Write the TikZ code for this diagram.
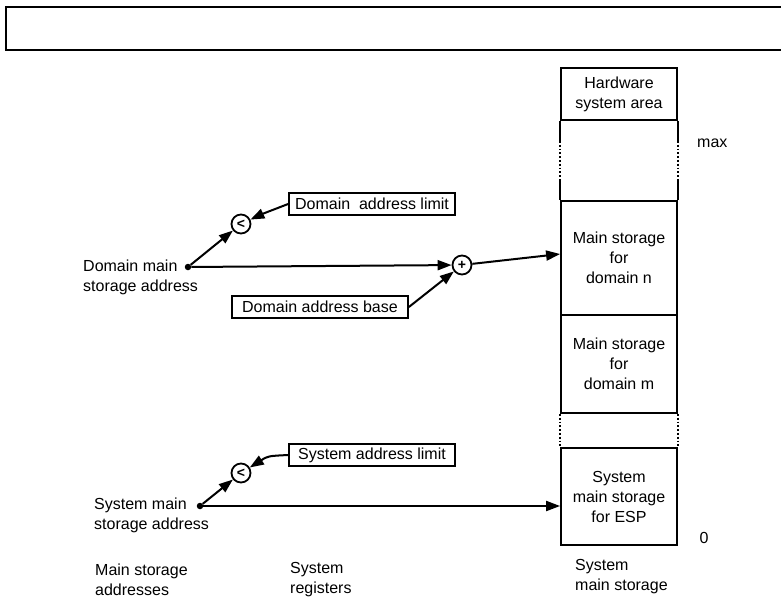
\documentclass[tikz,border=0pt]{standalone}
\usepackage{fontspec}
\setmainfont{Liberation Sans}
\usetikzlibrary{arrows.meta}
\begin{document}
\begin{tikzpicture}[x=1pt,y=-1pt,
  every node/.style={font=\fontsize{16}{20}\selectfont},
  txt/.style={inner sep=0pt,align=left},
  cell/.style={draw,line width=1.8pt,minimum width=116pt,inner sep=0pt,align=center},
  regbox/.style={draw,line width=1.8pt,inner sep=3pt,minimum height=22pt},
  opc/.style={draw,circle,line width=1.8pt,minimum size=19pt,inner sep=0pt,font=\fontsize{14}{14}\selectfont\bfseries},
  dotn/.style={circle,fill,minimum size=6.5pt,inner sep=0pt},
  arr/.style={line width=2pt,-{Triangle[length=14pt,width=10pt]}},
  side/.style={line width=1.8pt},
  dotside/.style={line width=1.8pt,dotted}]
\useasboundingbox (0,0) rectangle (781,613);
% top frame
\draw[line width=1.8pt] (782,7) -- (6,7) -- (6,50) -- (782,50);

% storage column
\node[cell,minimum height=52pt] (hw) at (619,94) {Hardware\\system area};
\node[cell,minimum height=114pt] (domn) at (619,258) {Main storage\\for\\domain n};
\node[cell,minimum height=98pt] (domm) at (619,364) {Main storage\\for\\domain m};
\node[cell,minimum height=97pt] (esp) at (619,496.5) {System\\main storage\\for ESP};
% free region sides
\draw[side] (hw.south west) -- ++(0,20);
\draw[dotside] ([yshift=-20pt]hw.south west) -- ([yshift=21pt]domn.north west);
\draw[side] ([yshift=21pt]domn.north west) -- (domn.north west);
\draw[side] (hw.south east) -- ++(0,20);
\draw[dotside] ([yshift=-20pt]hw.south east) -- ([yshift=21pt]domn.north east);
\draw[side] ([yshift=21pt]domn.north east) -- (domn.north east);
% gap sides
\draw[dotside] (domm.south west) -- (esp.north west);
\draw[dotside] (domm.south east) -- (esp.north east);

\node[txt,anchor=west] (max) at (697,143) {max};
\node[txt] (zero) at (704,538) {0};
\node[txt,anchor=west] (sms) at (575,577) {System\\main storage};

% domain path
\node[txt,anchor=west] (dlab) at (83,277) {Domain main\\storage address};
\node[dotn] (d1) at (188,267) {};
\node[opc] (lt1) at (241,224) {<};
\node[regbox,minimum width=166pt] (lim1) at (372,204) {Domain\ \ address limit};
\node[regbox,minimum width=176pt] (base1) at (320,307) {Domain address base};
\node[opc] (plus1) at (462,265) {+};
\draw[arr] (d1) -- (lt1);
\draw[arr] (lim1.west) .. controls (275,208) .. (lt1);
\draw[arr] (d1) -- (plus1);
\draw[arr] (base1.east) -- (plus1);
\draw[arr] (plus1) -- ([yshift=4pt]domn.west);

% system path
\node[txt,anchor=west] (slab) at (94,515) {System main\\storage address};
\node[dotn] (d2) at (200,506) {};
\node[opc] (lt2) at (241,473) {<};
\node[regbox,minimum width=166pt] (lim2) at (372,455) {System address limit};
\draw[arr] (d2) -- (lt2);
\draw[arr] (lim2.west) .. controls (268,456) .. (lt2);
\draw[arr] (d2) -- (d2 -| esp.west);

% bottom labels
\node[txt,anchor=west] (msa) at (95,580) {Main storage\\addresses};
\node[txt,anchor=west] (sreg) at (290,580) {System\\registers};
\end{tikzpicture}
\end{document}
